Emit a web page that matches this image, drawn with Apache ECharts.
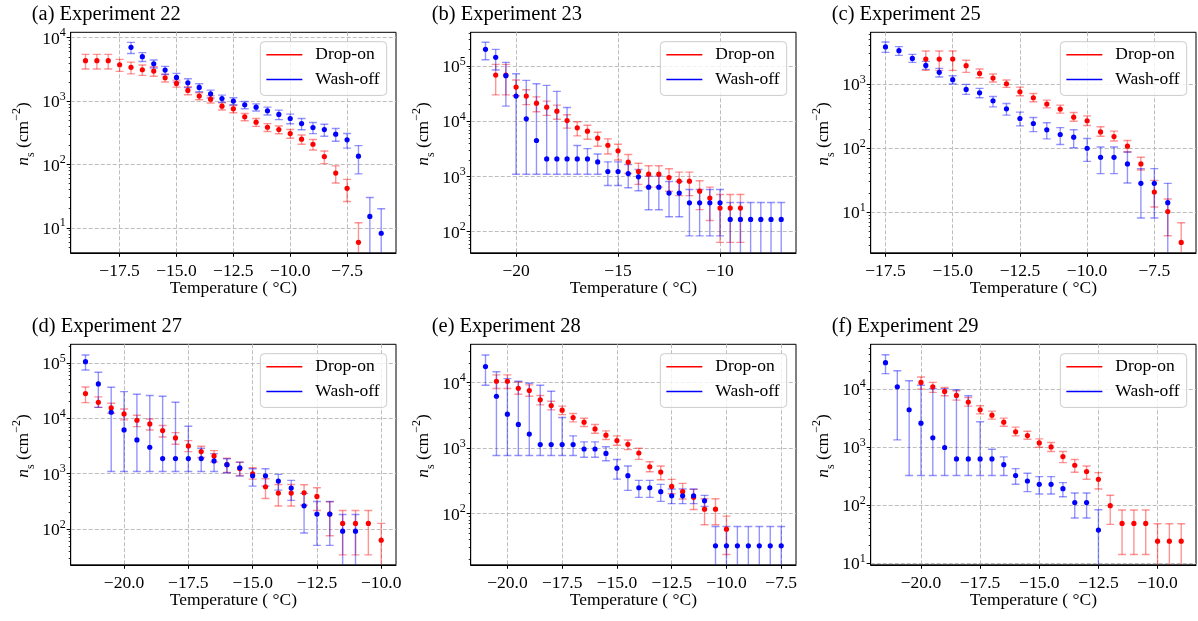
<!DOCTYPE html>
<html>
<head>
<meta charset="utf-8">
<script src="https://cdn.jsdelivr.net/npm/echarts@6.0.0/dist/echarts.min.js"></script>
<style>
  html, body { margin: 0; padding: 0; background: #ffffff; }
  #chart { width: 1198px; height: 621px; }
</style>
</head>
<body>
<div id="chart"></div>
<script>
// ---------------------------------------------------------------------------
// Ice-nucleation site density n_s (cm^-2) against temperature (°C)
// Each series: temperatures, n_s values, lower and upper error-bar bounds.
// A lower bound of 0 means the bar runs off the bottom of the log axis.
// ---------------------------------------------------------------------------

// (a) Experiment 22
const exp22DropOnT  = [-19, -18.5, -18, -17.5, -17, -16.5, -16, -15.5, -15, -14.5, -14, -13.5, -13, -12.5, -12, -11.5, -11, -10.5, -10, -9.5, -9, -8.5, -8, -7.5, -7];
const exp22DropOnNs = [4330, 4330, 4330, 3740, 3400, 3120, 2970, 2330, 1900, 1470, 1200, 1070, 830, 753, 563, 464, 386, 355, 307, 250, 208, 133, 73, 42, 5.9];
const exp22DropOnLo = [3210, 3210, 3210, 2940, 2680, 2540, 2460, 2000, 1660, 1260, 1050, 930, 723, 655, 490, 398, 331, 305, 259, 208, 169, 103, 51, 26, 0];
const exp22DropOnHi = [5450, 5450, 5450, 4540, 4120, 3700, 3480, 2660, 2140, 1680, 1350, 1210, 937, 851, 636, 530, 441, 405, 355, 292, 247, 163, 95, 58, 12];
const exp22WashOffT  = [-17, -16.5, -16, -15.5, -15, -14.5, -14, -13.5, -13, -12.5, -12, -11.5, -11, -10.5, -10, -9.5, -9, -8.5, -8, -7.5, -7, -6.5, -6];
const exp22WashOffNs = [7040, 5010, 3880, 3080, 2360, 1940, 1640, 1300, 1098, 1000, 871, 801, 701, 614, 530, 441, 382, 355, 300, 244, 135, 15.1, 8.2];
const exp22WashOffLo = [5640, 4220, 3320, 2630, 1990, 1630, 1405, 1115, 956, 875, 757, 698, 601, 510, 439, 352, 306, 279, 232, 181, 71, 0, 0];
const exp22WashOffHi = [8440, 5800, 4440, 3530, 2730, 2250, 1875, 1486, 1240, 1125, 985, 904, 801, 718, 621, 530, 458, 431, 368, 307, 198, 30, 20];
const exp22TempTicks = [-17.5, -15, -12.5, -10, -7.5];
const exp22NsTicks   = [10, 100, 1000, 10000];

// (b) Experiment 23
const exp23DropOnT  = [-21, -20.5, -20, -19.5, -19, -18.5, -18, -17.5, -17, -16.5, -16, -15.5, -15, -14.5, -14, -13.5, -13, -12.5, -12, -11.5, -11, -10.5, -10, -9.5, -9];
const exp23DropOnNs = [68700, 68700, 41600, 28600, 21300, 18000, 15250, 10300, 7600, 6610, 4930, 3680, 2910, 1815, 1231, 1102, 1102, 959, 824, 824, 543, 406, 268, 268, 268];
const exp23DropOnLo = [30000, 30000, 29000, 20000, 14900, 12800, 10900, 7500, 5430, 4730, 3520, 2560, 1990, 1130, 721, 644, 644, 540, 450, 450, 251, 160, 64, 64, 64];
const exp23DropOnHi = [107000, 107000, 55700, 37200, 27700, 23200, 19600, 13100, 9770, 8490, 6340, 4800, 3840, 2500, 1741, 1560, 1560, 1378, 1198, 1198, 835, 641, 473, 473, 473];
const exp23WashOffT  = [-21.5, -21, -20.5, -20, -19.5, -19, -18.5, -18, -17.5, -17, -16.5, -16, -15.5, -15, -14.5, -14, -13.5, -13, -12.5, -12, -11.5, -11, -10.5, -10, -9.5, -9, -8.5, -8, -7.5, -7];
const exp23WashOffNs = [200500, 143600, 66800, 28600, 11060, 4480, 2080, 2080, 2080, 2080, 2080, 1836, 1231, 1231, 1133, 986, 641, 641, 500, 500, 334, 334, 334, 334, 167, 167, 167, 167, 167, 167];
const exp23WashOffLo = [130000, 85000, 18800, 1096, 1096, 1096, 1096, 1096, 1096, 1096, 1096, 1096, 687, 687, 624, 551, 250, 250, 187, 187, 84, 84, 84, 84, 0, 0, 0, 0, 0, 0];
const exp23WashOffHi = [269000, 200000, 116600, 72600, 55000, 47800, 44600, 34700, 17800, 3630, 3200, 2560, 1842, 1842, 1648, 1339, 1014, 1014, 813, 813, 582, 582, 582, 582, 339, 339, 339, 339, 339, 339];
const exp23TempTicks = [-20, -15, -10];
const exp23NsTicks   = [100, 1000, 10000, 100000];

// (c) Experiment 25
const exp25DropOnT  = [-16, -15.5, -15, -14.5, -14, -13.5, -13, -12.5, -12, -11.5, -11, -10.5, -10, -9.5, -9, -8.5, -8, -7.5, -7, -6.5];
const exp25DropOnNs = [2460, 2460, 2460, 1937, 1469, 1242, 1012, 758, 611, 486, 406, 304, 267, 179, 151, 107, 56.5, 20.6, 10.2, 3.35];
const exp25DropOnLo = [1636, 1636, 1636, 1524, 1257, 1075, 887, 656, 528, 425, 351, 263, 225, 153, 129, 87, 45.5, 12.0, 4.26, 0];
const exp25DropOnHi = [3290, 3290, 3290, 2350, 1718, 1434, 1155, 897, 714, 561, 469, 360, 319, 215, 184, 131, 71.8, 31.3, 16.0, 6.8];
const exp25WashOffT  = [-17.5, -17, -16.5, -16, -15.5, -15, -14.5, -14, -13.5, -13, -12.5, -12, -11.5, -11, -10.5, -10, -9.5, -9, -8.5, -8, -7.5, -7];
const exp25WashOffNs = [3800, 3330, 2520, 1958, 1524, 1170, 825, 731, 548, 411, 290, 242, 193, 163, 148, 99.3, 71.8, 71.8, 56.5, 28.1, 28.1, 14.0];
const exp25WashOffLo = [3130, 2810, 2180, 1699, 1287, 1000, 689, 611, 441, 327, 222, 181, 139, 114, 101, 62, 39.9, 39.9, 28.5, 8.1, 8.1, 0];
const exp25WashOffHi = [4550, 3850, 2915, 2263, 1760, 1351, 988, 855, 641, 498, 364, 301, 248, 209, 193, 141, 104, 104, 87, 47.8, 47.8, 28.1];
const exp25TempTicks = [-17.5, -15, -12.5, -10, -7.5];
const exp25NsTicks   = [10, 100, 1000];

// (d) Experiment 27
const exp27DropOnT  = [-21.5, -21, -20.5, -20, -19.5, -19, -18.5, -18, -17.5, -17, -16.5, -16, -15.5, -15, -14.5, -14, -13.5, -13, -12.5, -12, -11.5, -11, -10.5, -10];
const exp27DropOnNs = [28000, 19500, 15400, 12000, 9240, 7940, 6020, 4440, 3180, 2510, 2100, 1466, 1240, 1000, 582, 448, 448, 454, 389, 187, 127, 127, 127, 63.2];
const exp27DropOnLo = [19200, 15800, 12400, 9370, 7100, 6180, 4620, 3410, 2510, 1960, 1640, 1050, 927, 801, 358, 261, 261, 270, 217, 76, 34.3, 34.3, 34.3, 0];
const exp27DropOnHi = [36900, 24400, 18700, 14800, 11400, 9730, 7410, 5530, 3970, 3140, 2620, 1900, 1615, 1283, 812, 641, 641, 633, 559, 312, 217, 217, 217, 127];
const exp27WashOffT  = [-21.5, -21, -20.5, -20, -19.5, -19, -18.5, -18, -17.5, -17, -16.5, -16, -15.5, -15, -14.5, -14, -13.5, -13, -12.5, -12, -11.5, -11];
const exp27WashOffNs = [105700, 41800, 12900, 6180, 4080, 3010, 1880, 1880, 1880, 1880, 1706, 1455, 1283, 920, 920, 736, 551, 264, 187, 187, 92, 92];
const exp27WashOffLo = [74800, 15800, 1096, 1096, 1096, 1096, 1096, 1096, 1096, 1096, 1096, 1042, 907, 598, 598, 507, 330, 85, 51, 51, 0, 0];
const exp27WashOffHi = [139000, 67900, 36400, 30400, 27200, 25800, 25100, 19500, 7190, 2890, 2310, 1867, 1624, 1232, 1232, 973, 758, 442, 316, 316, 184, 184];
const exp27TempTicks = [-20, -17.5, -15, -12.5, -10];
const exp27NsTicks   = [100, 1000, 10000, 100000];

// (e) Experiment 28
const exp28DropOnT  = [-20.5, -20, -19.5, -19, -18.5, -18, -17.5, -17, -16.5, -16, -15.5, -15, -14.5, -14, -13.5, -13, -12.5, -12, -11.5, -11, -10.5, -10];
const exp28DropOnNs = [10480, 10480, 8190, 7550, 5440, 4450, 3780, 2920, 2480, 1960, 1570, 1300, 1138, 838, 517, 429, 259, 215, 176, 116, 116, 57.5];
const exp28DropOnLo = [8100, 8100, 6640, 6180, 4560, 3830, 3240, 2510, 2130, 1680, 1350, 1100, 943, 671, 434, 327, 200, 166, 115, 67, 67, 23.6];
const exp28DropOnHi = [13100, 13100, 10200, 9210, 6340, 5190, 4360, 3370, 2850, 2290, 1830, 1530, 1326, 989, 618, 530, 331, 288, 233, 168, 168, 91];
const exp28WashOffT  = [-21, -20.5, -20, -19.5, -19, -18.5, -18, -17.5, -17, -16.5, -16, -15.5, -15, -14.5, -14, -13.5, -13, -12.5, -12, -11.5, -11, -10.5, -10, -9.5, -9, -8.5, -8, -7.5];
const exp28WashOffNs = [17550, 6180, 3290, 2290, 1630, 1130, 1130, 1130, 1130, 965, 965, 825, 492, 378, 247, 247, 215, 186, 186, 186, 156, 32, 32, 32, 32, 32, 32, 32];
const exp28WashOffLo = [9100, 767, 767, 767, 767, 767, 767, 767, 767, 724, 724, 637, 334, 225, 176, 176, 153, 141, 141, 141, 128, 0, 0, 0, 0, 0, 0, 0];
const exp28WashOffHi = [26400, 14600, 11500, 10500, 9770, 9100, 7380, 2925, 1535, 1242, 1242, 1043, 667, 530, 320, 320, 278, 236, 236, 236, 189, 63.2, 63.2, 63.2, 63.2, 63.2, 63.2, 63.2];
const exp28TempTicks = [-20, -17.5, -15, -12.5, -10, -7.5];
const exp28NsTicks   = [100, 1000, 10000];

// (f) Experiment 29
const exp29DropOnT  = [-20, -19.5, -19, -18.5, -18, -17.5, -17, -16.5, -16, -15.5, -15, -14.5, -14, -13.5, -13, -12.5, -12, -11.5, -11, -10.5, -10, -9.5, -9];
const exp29DropOnNs = [12850, 10820, 8990, 7680, 5890, 4340, 3510, 2660, 1814, 1567, 1172, 1000, 681, 483, 376, 277, 97.5, 48.3, 48.3, 48.3, 23.9, 23.9, 23.9];
const exp29DropOnLo = [9870, 8650, 7570, 6380, 5020, 3700, 3000, 2270, 1548, 1355, 986, 831, 537, 366, 277, 189, 46.5, 14.1, 14.1, 14.1, 0, 0, 0];
const exp29DropOnHi = [15900, 12900, 10500, 9240, 7090, 5090, 4120, 3120, 2185, 1862, 1374, 1189, 831, 605, 470, 361, 147, 82, 82, 82, 47.7, 47.7, 47.7];
const exp29WashOffT  = [-21.5, -21, -20.5, -20, -19.5, -19, -18.5, -18, -17.5, -17, -16.5, -16, -15.5, -15, -14.5, -14, -13.5, -13, -12.5];
const exp29WashOffNs = [28100, 10830, 4350, 2560, 1430, 975, 621, 621, 621, 621, 495, 322, 259, 227, 227, 191, 110, 110, 37.1];
const exp29WashOffLo = [18200, 1320, 321, 321, 321, 321, 321, 321, 321, 321, 321, 227, 170, 155, 155, 139, 59.7, 59.7, 0];
const exp29WashOffHi = [38500, 20400, 13700, 11500, 10000, 10000, 9600, 7570, 2700, 912, 673, 423, 352, 308, 308, 243, 161, 161, 83];
const exp29TempTicks = [-20, -17.5, -15, -12.5, -10];
const exp29NsTicks   = [10, 100, 1000, 10000];

// ---------------------------------------------------------------------------
// Panel set-up (axis ranges follow the data with a 5 % margin)
// ---------------------------------------------------------------------------
const panels = [
  { title: '(a) Experiment 22', drop: [exp22DropOnT, exp22DropOnNs, exp22DropOnLo, exp22DropOnHi],
    wash: [exp22WashOffT, exp22WashOffNs, exp22WashOffLo, exp22WashOffHi],
    xTicks: exp22TempTicks, yTicks: exp22NsTicks, xRange: [-19.65, -5.35], yRange: [4.03, 12160], decimals: 1 },
  { title: '(b) Experiment 23', drop: [exp23DropOnT, exp23DropOnNs, exp23DropOnLo, exp23DropOnHi],
    wash: [exp23WashOffT, exp23WashOffNs, exp23WashOffLo, exp23WashOffHi],
    xTicks: exp23TempTicks, yTicks: exp23NsTicks, xRange: [-22.225, -6.275], yRange: [41.5, 408300], decimals: 0 },
  { title: '(c) Experiment 25', drop: [exp25DropOnT, exp25DropOnNs, exp25DropOnLo, exp25DropOnHi],
    wash: [exp25WashOffT, exp25WashOffNs, exp25WashOffLo, exp25WashOffHi],
    xTicks: exp25TempTicks, yTicks: exp25NsTicks, xRange: [-18.05, -5.95], yRange: [2.31, 6440], decimals: 1 },
  { title: '(d) Experiment 27', drop: [exp27DropOnT, exp27DropOnNs, exp27DropOnLo, exp27DropOnHi],
    wash: [exp27WashOffT, exp27WashOffNs, exp27WashOffLo, exp27WashOffHi],
    xTicks: exp27TempTicks, yTicks: exp27NsTicks, xRange: [-22.075, -9.425], yRange: [22.7, 217300], decimals: 1 },
  { title: '(e) Experiment 28', drop: [exp28DropOnT, exp28DropOnNs, exp28DropOnLo, exp28DropOnHi],
    wash: [exp28WashOffT, exp28WashOffNs, exp28WashOffLo, exp28WashOffHi],
    xTicks: exp28TempTicks, yTicks: exp28NsTicks, xRange: [-21.675, -6.825], yRange: [16.4, 38460], decimals: 1 },
  { title: '(f) Experiment 29', drop: [exp29DropOnT, exp29DropOnNs, exp29DropOnLo, exp29DropOnHi],
    wash: [exp29WashOffT, exp29WashOffNs, exp29WashOffLo, exp29WashOffHi],
    xTicks: exp29TempTicks, yTicks: exp29NsTicks, xRange: [-22.125, -8.375], yRange: [9.36, 58200], decimals: 1 }
];

const FONT = 'Liberation Serif';
const CHART_W = 1198;
const colLeft = [70.7, 470.7, 870.7];
const plotW = 325.3;
const rowTop = [32.3, 344.3];
const plotH = 220.5;

const DROP_COLOR = '#ff0000';
const WASH_COLOR = '#0000ff';
const DROP_BAR = 'rgba(255,0,0,0.42)';
const WASH_BAR = 'rgba(0,0,255,0.42)';
const GRID_LINE = { color: '#bdbdbd', width: 1, type: [4, 2] };

// minor ticks of a log axis: 2..9 x 10^n inside the range
function minorTicks(range) {
  const out = [];
  const e0 = Math.floor(Math.log10(range[0]));
  const e1 = Math.ceil(Math.log10(range[1]));
  for (let e = e0; e <= e1; e++) {
    for (let m = 2; m <= 9; m++) {
      const v = m * Math.pow(10, e);
      if (v > range[0] && v < range[1]) out.push(v);
    }
  }
  return out;
}

// vertical error bar with caps; a missing lower bound runs to the axis floor
function errorBars(color) {
  return function (params, api) {
    const t = api.value(0), lo = api.value(1), hi = api.value(2);
    const cs = params.coordSys;
    const yFloor = cs.y + cs.height;
    const pHi = api.coord([t, hi]);
    const x = pHi[0];
    const hasLo = lo > 0;
    const yLo = hasLo ? api.coord([t, lo])[1] : yFloor;
    const style = { stroke: color, lineWidth: 1.4, fill: null };
    const cap = 4;
    const kids = [
      { type: 'line', shape: { x1: x, y1: Math.max(pHi[1], cs.y), x2: x, y2: Math.min(yLo, yFloor) }, style: style },
      { type: 'line', shape: { x1: x - cap, y1: pHi[1], x2: x + cap, y2: pHi[1] }, style: style }
    ];
    if (hasLo && yLo <= yFloor) {
      kids.push({ type: 'line', shape: { x1: x - cap, y1: yLo, x2: x + cap, y2: yLo }, style: style });
    }
    return { type: 'group', children: kids };
  };
}

const grids = [], xAxes = [], yAxes = [], series = [], titles = [], legends = [];

panels.forEach(function (p, i) {
  const col = i % 3, row = Math.floor(i / 3);
  const left = colLeft[col], top = rowTop[row];

  grids.push({
    left: left, top: top, width: plotW, height: plotH,
    show: true, borderColor: '#000', borderWidth: 1, backgroundColor: 'transparent',
    containLabel: false, outerBoundsMode: 'none'
  });

  titles.push({
    text: p.title, left: left - 39, top: top - 28.5, padding: 0,
    textStyle: { fontFamily: FONT, fontSize: 20.5, fontWeight: 'normal', color: '#000' }
  });

  xAxes.push({
    type: 'value', gridIndex: i, min: p.xRange[0], max: p.xRange[1],
    axisLine: { show: true, onZero: false, lineStyle: { color: '#000', width: 1 } },
    axisTick: { show: true, inside: false, length: 4, customValues: p.xTicks, lineStyle: { color: '#000', width: 1 } },
    axisLabel: {
      customValues: p.xTicks, margin: 9.5, fontFamily: FONT, fontSize: 17.5, color: '#000',
      formatter: function (v) { return (v < 0 ? '\u2212' : '') + Math.abs(v).toFixed(p.decimals); }
    },
    splitLine: { show: true, lineStyle: GRID_LINE },
    name: 'Temperature ( \u00B0C)', nameLocation: 'middle', nameGap: 27, nameMoveOverlap: false,
    nameTextStyle: { fontFamily: FONT, fontSize: 17.5, color: '#000' }
  });

  yAxes.push({
    type: 'log', logBase: 10, gridIndex: i, min: p.yRange[0], max: p.yRange[1], position: 'left',
    axisLine: { show: true, onZero: false, lineStyle: { color: '#000', width: 1 } },
    axisTick: { show: true, inside: false, length: 4, customValues: p.yTicks, lineStyle: { color: '#000', width: 1 } },
    axisLabel: {
      customValues: p.yTicks, margin: 5, padding: [3, 0, 0, 0],
      formatter: function (v) { return '{b|10}{e|' + Math.round(Math.log10(v)) + '}'; },
      rich: {
        b: { fontFamily: FONT, fontSize: 17.5, lineHeight: 24, color: '#000' },
        e: { fontFamily: FONT, fontSize: 12, lineHeight: 12, verticalAlign: 'top', color: '#000' }
      }
    },
    splitLine: { show: true, lineStyle: GRID_LINE },
    name: '{n|n}{s|s}{t| (cm}{e|\u22122}{t|)}', nameLocation: 'middle', nameRotate: 90, nameGap: 34,
    nameMoveOverlap: false,
    nameTextStyle: {
      padding: [0, 0, 0, 17],
      rich: {
        n: { fontFamily: FONT, fontSize: 17.5, fontStyle: 'italic', lineHeight: 26, color: '#000' },
        s: { fontFamily: FONT, fontSize: 12, lineHeight: 12, verticalAlign: 'bottom', color: '#000' },
        t: { fontFamily: FONT, fontSize: 17.5, lineHeight: 26, color: '#000' },
        e: { fontFamily: FONT, fontSize: 12, lineHeight: 12, verticalAlign: 'top', color: '#000' }
      }
    }
  });

  // companion axis carrying only the minor log ticks
  yAxes.push({
    type: 'log', logBase: 10, gridIndex: i, min: p.yRange[0], max: p.yRange[1], position: 'left',
    axisLine: { show: false },
    axisTick: { show: true, inside: false, length: 2, customValues: minorTicks(p.yRange), lineStyle: { color: '#000', width: 0.8 } },
    axisLabel: { show: false },
    splitLine: { show: false }
  });

  const xi = i, yi = 2 * i;
  const barData = function (s) { return s[0].map(function (t, k) { return [t, s[2][k], s[3][k]]; }); };
  const ptData = function (s) { return s[0].map(function (t, k) { return [t, s[1][k]]; }); };

  series.push({
    type: 'custom', name: 'Drop-on error', xAxisIndex: xi, yAxisIndex: yi, silent: true, clip: true, z: 2,
    dimensions: ['t', 'lo', 'hi'], encode: { x: 0, y: 2 }, renderItem: errorBars(DROP_BAR), data: barData(p.drop)
  });
  series.push({
    type: 'custom', name: 'Wash-off error', xAxisIndex: xi, yAxisIndex: yi, silent: true, clip: true, z: 2,
    dimensions: ['t', 'lo', 'hi'], encode: { x: 0, y: 2 }, renderItem: errorBars(WASH_BAR), data: barData(p.wash)
  });
  series.push({
    type: 'scatter', name: 'Drop-on', xAxisIndex: xi, yAxisIndex: yi, silent: true, z: 3,
    symbol: 'circle', symbolSize: 5.2, itemStyle: { color: DROP_COLOR, opacity: 1 }, data: ptData(p.drop)
  });
  series.push({
    type: 'scatter', name: 'Wash-off', xAxisIndex: xi, yAxisIndex: yi, silent: true, z: 3,
    symbol: 'circle', symbolSize: 5.2, itemStyle: { color: WASH_COLOR, opacity: 1 }, data: ptData(p.wash)
  });

  legends.push({
    orient: 'vertical', right: CHART_W - (left + plotW - 9.3), top: top + 9.4,
    data: [
      { name: 'Drop-on', itemStyle: { color: DROP_COLOR } },
      { name: 'Wash-off', itemStyle: { color: WASH_COLOR } }
    ],
    icon: 'rect', itemWidth: 36, itemHeight: 1.5, itemGap: 4.7, selectedMode: false,
    padding: [3, 7, 6, 6],
    backgroundColor: 'rgba(255,255,255,0.8)', borderColor: '#cccccc', borderWidth: 1, borderRadius: 4,
    textStyle: { fontFamily: FONT, fontSize: 17.5, color: '#000', lineHeight: 20, padding: [0, 0, 0, 8] }
  });
});

const chart = echarts.init(document.getElementById('chart'), null, { renderer: 'canvas' });
chart.setOption({
  animation: false,
  backgroundColor: '#ffffff',
  textStyle: { fontFamily: FONT },
  title: titles,
  legend: legends,
  grid: grids,
  xAxis: xAxes,
  yAxis: yAxes,
  series: series
});
</script>
</body>
</html>
